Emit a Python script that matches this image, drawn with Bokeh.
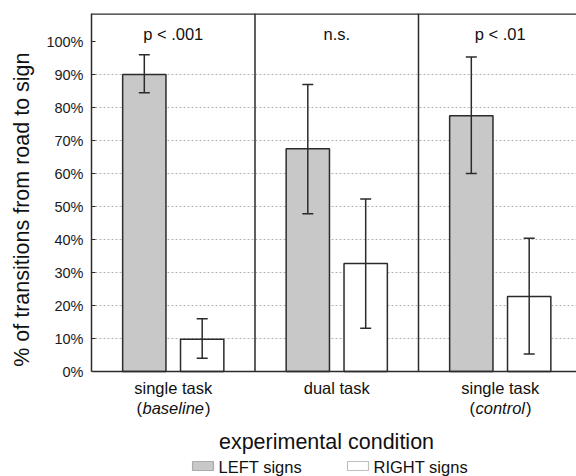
from bokeh.plotting import figure
from bokeh.models import (Range1d, FixedTicker, Span, Label, Whisker, TeeHead,
                          ColumnDataSource, BoxAnnotation, Title)
from bokeh.embed import file_html
from bokeh.resources import INLINE

# ---------------- data ----------------
cond_line1 = ["single task", "dual task", "single task"]
cond_line2 = ["baseline", "", "control"]
p_labels = ["p < .001", "n.s.", "p < .01"]
left_mean = [90.0, 67.5, 77.5]
left_lo = [84.5, 47.8, 60.0]
left_hi = [96.0, 87.0, 95.3]
right_mean = [9.8, 32.7, 22.7]
right_lo = [4.0, 13.1, 5.3]
right_hi = [16.0, 52.3, 40.4]
y_ticks = [0, 10, 20, 30, 40, 50, 60, 70, 80, 90, 100]
y_tick_labels = ["0%", "10%", "20%", "30%", "40%", "50%", "60%", "70%", "80%", "90%", "100%"]
series_names = ["LEFT signs", "RIGHT signs"]
x_title = "experimental condition"
y_title = "% of transitions from road to sign"

FONT = "Liberation Sans"
DARK = "#2b2b2b"
GRAY = "#c8c8c8"

W, H = 576, 476
FL, FT = 91, 13          # frame left / top (px)
Y0 = 371                 # pixel row of 0 %
PX_PER_PCT = 3.3
PX_PER_PANEL = 163.5

y_top = (Y0 - FT) / PX_PER_PCT
y_bot = (Y0 - H) / PX_PER_PCT
x_end = (W - FL) / PX_PER_PANEL

centers = [0.5 + i for i in range(len(cond_line1))]
off = 0.177
bw = 0.265

p = figure(width=W, height=H, x_range=Range1d(0, x_end), y_range=Range1d(y_bot, y_top),
           output_backend="svg", toolbar_location=None, title=None,
           min_border_left=FL, min_border_right=0, min_border_top=FT, min_border_bottom=0,
           x_axis_location=None)
p.outline_line_color = None
p.background_fill_color = "white"
p.border_fill_color = "white"

# y axis (real axis, bounded to the plotting panel)
p.yaxis.bounds = (0, y_top)
p.yaxis.ticker = FixedTicker(ticks=y_ticks)
p.yaxis.major_label_overrides = {t: l for t, l in zip(y_ticks, y_tick_labels)}
p.yaxis.major_label_text_font = FONT
p.yaxis.major_label_text_font_size = "14.5px"
p.yaxis.major_label_text_color = "#1a1a1a"
p.yaxis.major_tick_in = 4
p.yaxis.major_tick_out = 0
p.yaxis.minor_tick_line_color = None
p.yaxis.major_label_standoff = 8
p.yaxis.axis_line_color = DARK
p.yaxis.axis_line_width = 1.5
p.yaxis.major_tick_line_color = DARK

# y title: a side-panel title so it can be placed along the axis
p.add_layout(Title(text=y_title, align="right", offset=39, vertical_align="middle",
                   standoff=17, text_font=FONT, text_font_size="21.5px",
                   text_font_style="normal", text_color="#111111"), "left")

p.xgrid.grid_line_color = None
p.ygrid.ticker = FixedTicker(ticks=y_ticks[1:-1])
p.ygrid.grid_line_color = "#b4b4b4"
p.ygrid.grid_line_dash = "2 2"
p.ygrid.grid_line_width = 1

# frame top, baseline and panel dividers
p.add_layout(Span(location=y_top, dimension="width", line_color=DARK, line_width=2.5))
p.add_layout(Span(location=0, dimension="width", line_color=DARK, line_width=1.5))
div_x = [float(i) for i in range(1, len(cond_line1))]
p.segment(x0=div_x, y0=[0] * len(div_x), x1=div_x, y1=[y_top] * len(div_x),
          line_color=DARK, line_width=1.5)

# bars
xl = [c - off for c in centers]
xr = [c + off for c in centers]
p.vbar(x=xl, top=left_mean, bottom=0, width=bw, fill_color=GRAY, line_color=DARK, line_width=1.5)
p.vbar(x=xr, top=right_mean, bottom=0, width=bw, fill_color="white", line_color=DARK, line_width=1.5)

# error bars
src = ColumnDataSource(dict(x=xl + xr, lo=left_lo + right_lo, hi=left_hi + right_hi))
w = Whisker(base="x", lower="lo", upper="hi", source=src, dimension="height",
            line_color=DARK, line_width=1.5, level="overlay")
w.upper_head = TeeHead(size=11, line_color=DARK, line_width=1.5)
w.lower_head = TeeHead(size=11, line_color=DARK, line_width=1.5)
p.add_layout(w)

# helpers: map page pixels to data
def ux(px):
    return (px - FL) / PX_PER_PANEL

def vy(py):
    return (Y0 - py) / PX_PER_PCT

def lab(x, y, text, size, align="center", style="normal", x_offset=0):
    p.add_layout(Label(x=x, y=y, text=text, text_font=FONT, text_font_size=size,
                       text_align=align, text_baseline="middle", text_color="#111111",
                       text_font_style=style, x_offset=x_offset))

# p-value labels
for c, t in zip(centers, p_labels):
    lab(c, vy(33), t, "16.5px")

# category labels
ital_w = {"baseline": 61.4, "control": 49.5}
for c, t1, t2 in zip(centers, cond_line1, cond_line2):
    lab(c, vy(387), t1, "16.5px")
    if t2:
        h = ital_w[t2] / 2
        lab(c, vy(407), t2, "16.5px", style="italic")
        lab(c, vy(407), "(", "16.5px", align="right", x_offset=-h - 0.5)
        lab(c, vy(407), ")", "16.5px", align="left", x_offset=h + 1.0)

# x axis title
lab(ux(326), vy(441), x_title, "21.5px")

# legend
p.add_layout(BoxAnnotation(left=ux(192), right=ux(213), top=vy(461), bottom=vy(470),
                           fill_color=GRAY, fill_alpha=1, line_color=DARK, line_width=1.2))
p.add_layout(BoxAnnotation(left=ux(347), right=ux(368), top=vy(461), bottom=vy(470),
                           fill_color="white", fill_alpha=1, line_color=DARK, line_width=1.2))
lab(ux(218), vy(466), series_names[0], "16.5px", align="left")
lab(ux(373), vy(466), series_names[1], "16.5px", align="left")

open("out.html", "w").write(file_html(p, INLINE))
